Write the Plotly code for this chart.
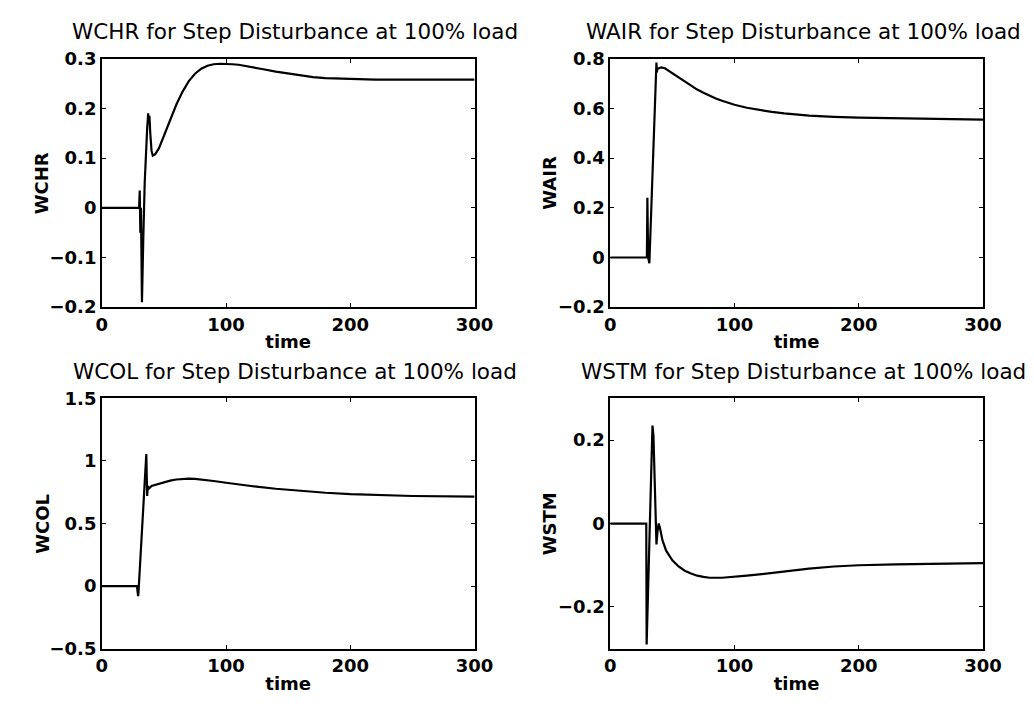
import plotly.graph_objects as go

# ---------------- data ----------------
wchr_t = [0, 30, 30.5, 31, 31.5, 32.3, 33.3, 34.5, 36.5, 37.3, 37.8, 38.3, 39, 40, 41, 43, 46, 50, 55, 60,
          65, 70, 75, 80, 85, 90, 95, 100, 105, 110, 115, 120, 130, 140, 150, 160, 170, 180, 190, 200, 220,
          250, 300]
wchr_v = [0, 0, 0.035, -0.05, 0.0, -0.19, -0.07, 0.05, 0.16, 0.19, 0.17, 0.185, 0.15, 0.115, 0.105, 0.108,
          0.12, 0.145, 0.178, 0.208, 0.234, 0.255, 0.27, 0.28, 0.286, 0.289, 0.29, 0.29, 0.289, 0.288, 0.286,
          0.284, 0.279, 0.274, 0.27, 0.266, 0.263, 0.261, 0.26, 0.259, 0.258, 0.258, 0.258]

wair_t = [0, 29.5, 29.9, 30.5, 31.5, 37.2, 37.5, 38, 41, 44, 47, 50, 55, 60, 65, 70, 75, 80, 85, 90, 100, 110,
          120, 130, 140, 150, 160, 180, 200, 250, 300]
wair_v = [0, 0, 0.24, 0.0, -0.023, 0.785, 0.745, 0.76, 0.765, 0.762, 0.752, 0.742, 0.724, 0.706, 0.69,
          0.676, 0.663, 0.651, 0.64, 0.631, 0.615, 0.603, 0.594, 0.586, 0.58, 0.575, 0.571, 0.566, 0.563,
          0.559, 0.555]

wcol_t = [0, 28.3, 29.2, 29.5, 35.8, 36.5, 37, 38, 40, 45, 50, 55, 60, 65, 70, 75, 80, 90, 100, 110, 120, 140,
          160, 180, 200, 220, 250, 300]
wcol_v = [0, 0, -0.08, -0.05, 1.055, 0.72, 0.8, 0.78, 0.8, 0.815, 0.83, 0.843, 0.852, 0.857, 0.858, 0.856,
          0.852, 0.84, 0.826, 0.812, 0.8, 0.778, 0.76, 0.746, 0.735, 0.727, 0.72, 0.715]

wstm_t = [0, 29, 29.3, 33.3, 34, 34.8, 36, 37.2, 38, 39, 40, 42, 45, 50, 55, 60, 65, 70, 75, 80, 90, 100, 110,
          120, 140, 160, 180, 200, 230, 260, 300]
wstm_v = [0, 0, -0.29, 0.2, 0.235, 0.21, 0.05, -0.05, -0.02, 0.0, -0.01, -0.04, -0.065, -0.088, -0.103,
          -0.113, -0.12, -0.125, -0.128, -0.13, -0.13, -0.128, -0.125, -0.122, -0.115, -0.108, -0.103, -0.1,
          -0.098, -0.096, -0.095]

x_ticks = [0, 100, 200, 300]
x_ticktext = ["0", "100", "200", "300"]

wchr_yticks = [-0.2, -0.1, 0, 0.1, 0.2, 0.3]
wchr_yticktext = ["\u22120.2", "\u22120.1", "0", "0.1", "0.2", "0.3"]
wair_yticks = [-0.2, 0, 0.2, 0.4, 0.6, 0.8]
wair_yticktext = ["\u22120.2", "0", "0.2", "0.4", "0.6", "0.8"]
wcol_yticks = [-0.5, 0, 0.5, 1, 1.5]
wcol_yticktext = ["\u22120.5", "0", "0.5", "1", "1.5"]
wstm_yticks = [-0.2, 0, 0.2]
wstm_yticktext = ["\u22120.2", "0", "0.2"]

titles = ["WCHR for Step Disturbance at 100% load",
          "WAIR for Step Disturbance at 100% load",
          "WCOL for Step Disturbance at 100% load",
          "WSTM for Step Disturbance at 100% load"]
ylabels = ["WCHR", "WAIR", "WCOL", "WSTM"]

# ---------------- layout geometry ----------------
W, H = 1034, 706
FONT = "DejaVu Sans"
xdoms = [[90 / W, 472 / W], [611 / W, 993 / W]]
ydoms = [[1 - 297 / H, 1 - 41 / H], [1 - 649 / H, 1 - 391 / H]]
ylabel_x = [29 / W, 549 / W]

panels = [
    (wchr_t, wchr_v, [-0.2, 0.3], wchr_yticks, wchr_yticktext, 0, 0),
    (wair_t, wair_v, [-0.2, 0.8], wair_yticks, wair_yticktext, 1, 0),
    (wcol_t, wcol_v, [-0.5, 1.5], wcol_yticks, wcol_yticktext, 0, 1),
    (wstm_t, wstm_v, [-0.3, 0.3], wstm_yticks, wstm_yticktext, 1, 1),
]

axfont = dict(family=FONT, size=18, color="black", weight="bold")

fig = go.Figure()
annotations = []
for i, (t, v, yr, yt, ytt, col, row) in enumerate(panels):
    xd, yd = xdoms[col], ydoms[row]
    n = "" if i == 0 else str(i + 1)
    fig.add_trace(go.Scatter(x=t, y=v, mode="lines", line=dict(color="black", width=2.2),
                             xaxis="x" + n, yaxis="y" + n, showlegend=False, hoverinfo="skip"))
    axcommon = dict(showline=True, linecolor="black", linewidth=1.5, mirror="ticks", ticks="inside",
                    ticklen=4, tickwidth=1, tickcolor="black", showgrid=False, zeroline=False,
                    tickfont=axfont)
    fig.layout["xaxis" + n] = dict(domain=xd, range=[0, 300], tickvals=x_ticks, ticktext=x_ticktext,
                                   anchor="y" + n, title=dict(text="time", standoff=2, font=axfont),
                                   **axcommon)
    fig.layout["yaxis" + n] = dict(domain=yd, range=yr, tickvals=yt, ticktext=ytt, anchor="x" + n,
                                   **axcommon)
    # y-axis label placed close to the tick labels, as in the reference
    annotations.append(dict(text=ylabels[i], xref="paper", yref="paper", x=ylabel_x[col],
                            y=(yd[0] + yd[1]) / 2, textangle=-90, xanchor="center", yanchor="middle",
                            showarrow=False, font=axfont))
    annotations.append(dict(text=titles[i], xref="paper", yref="paper",
                            x=(xd[0] + xd[1]) / 2 + 7 / W, y=yd[1] + 13 / H,
                            xanchor="center", yanchor="bottom", showarrow=False,
                            font=dict(family=FONT, size=21.5, color="black")))

fig.update_layout(width=W, height=H, margin=dict(l=0, r=0, t=0, b=0),
                  paper_bgcolor="white", plot_bgcolor="white", annotations=annotations,
                  font=dict(family=FONT, color="black"))
fig.write_html("out.html")
